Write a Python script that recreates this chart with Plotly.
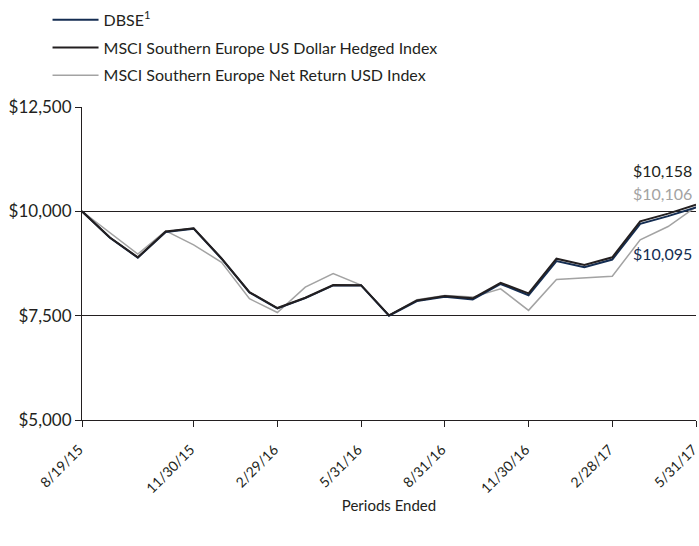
import plotly.graph_objects as go

dates = ["8/19/15", "8/31/15", "9/30/15", "10/31/15", "11/30/15", "12/31/15",
         "1/31/16", "2/29/16", "3/31/16", "4/30/16", "5/31/16", "6/30/16",
         "7/31/16", "8/31/16", "9/30/16", "10/31/16", "11/30/16", "12/31/16",
         "1/31/17", "2/28/17", "3/31/17", "4/30/17", "5/31/17"]

dbse = [10000, 9365, 8890, 9505, 9585, 8865, 8055, 7675, 7920, 8225, 8225, 7500,
        7850, 7955, 7890, 8260, 7990, 8810, 8660, 8845, 9700, 9885, 10095]
hedged = [10000, 9374, 8898, 9517, 9595, 8874, 8064, 7683, 7930, 8235, 8231, 7507,
          7865, 7969, 7915, 8286, 8035, 8865, 8714, 8898, 9760, 9945, 10158]
net_return = [10000, 9493, 8976, 9532, 9198, 8778, 7905, 7575, 8183, 8510, 8231, 7507,
              7880, 7984, 7945, 8143, 7627, 8365, 8405, 8445, 9317, 9636, 10106]

tick_dates = ["8/19/15", "11/30/15", "2/29/16", "5/31/16", "8/31/16", "11/30/16", "2/28/17", "5/31/17"]
y_ticks = [5000, 7500, 10000, 12500]
y_tick_labels = ["$5,000", "$7,500", "$10,000", "$12,500"]

NAVY = "#142d52"
BLACK = "#231f20"
GRAY = "#a3a3a3"
FONT = "Lato"

fig = go.Figure()
fig.add_trace(go.Scatter(x=dates, y=net_return, mode="lines", name="MSCI Southern Europe Net Return USD Index",
                         line=dict(color=GRAY, width=1.5), legendrank=3, legendgroup="c"))
fig.add_trace(go.Scatter(x=dates, y=dbse, mode="lines", name="DBSE<sup>1</sup>",
                         line=dict(color=NAVY, width=2), legendrank=1, legendgroup="a"))
fig.add_trace(go.Scatter(x=dates, y=hedged, mode="lines", name="MSCI Southern Europe US Dollar Hedged Index",
                         line=dict(color=BLACK, width=2), legendrank=2, legendgroup="b"))

fig.add_annotation(x=dates[-1], y=hedged[-1], text="$" + f"{hedged[-1]:,}", showarrow=False,
                   xanchor="right", yanchor="bottom", xshift=-2, yshift=23,
                   font=dict(family=FONT, size=16, color=BLACK))
fig.add_annotation(x=dates[-1], y=net_return[-1], text="$" + f"{net_return[-1]:,}", showarrow=False,
                   xanchor="right", yanchor="bottom", xshift=-2, yshift=2,
                   font=dict(family=FONT, size=16, color=GRAY))
fig.add_annotation(x=dates[-1], y=dbse[-1], text="$" + f"{dbse[-1]:,}", showarrow=False,
                   xanchor="right", yanchor="top", xshift=-2, yshift=-35,
                   font=dict(family=FONT, size=16, color=NAVY))

fig.update_layout(
    width=699, height=546,
    margin=dict(l=82, r=3, t=107, b=126, autoexpand=False),
    plot_bgcolor="white", paper_bgcolor="white",
    font=dict(family=FONT, size=15, color=BLACK),
    showlegend=True,
    legend=dict(x=0.068, y=0.995, xref="container", yref="container", xanchor="left", yanchor="top",
                font=dict(family=FONT, size=16, color=BLACK), tracegroupgap=4,
                itemwidth=46, bgcolor="rgba(0,0,0,0)"),
    xaxis=dict(type="category", categoryorder="array", categoryarray=dates,
               range=[0, len(dates) - 1], tickmode="array", tickvals=tick_dates, ticktext=tick_dates,
               tickangle=-45, ticks="outside", ticklen=6, tickcolor=BLACK, ticklabelstandoff=9,
               ticklabelshift=-3,
               showgrid=False, showline=True, linecolor=BLACK, linewidth=1,
               zeroline=False, automargin=False,
               title=dict(text="Periods Ended", font=dict(family=FONT, size=15, color=BLACK), standoff=5),
               tickfont=dict(family=FONT, size=14, color=BLACK)),
    yaxis=dict(range=[5000, 12500], tickmode="array", tickvals=y_ticks, ticktext=y_tick_labels,
               ticks="outside", ticklen=6, tickcolor=BLACK, automargin=False,
               showgrid=True, gridcolor=BLACK, gridwidth=1,
               showline=True, linecolor=BLACK, linewidth=1, zeroline=False,
               tickfont=dict(family=FONT, size=17, color=BLACK)),
)

fig.write_html("out.html")
